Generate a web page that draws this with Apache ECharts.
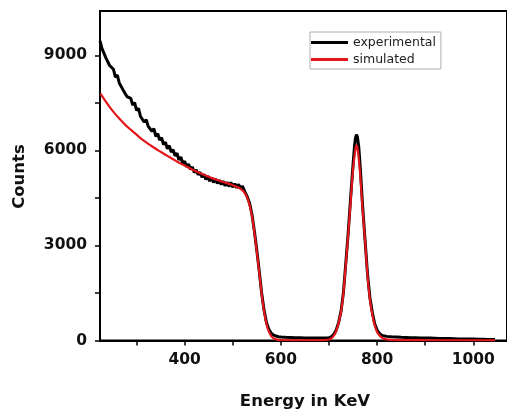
<!DOCTYPE html>
<html>
<head>
<meta charset="utf-8">
<script src="https://cdn.jsdelivr.net/npm/echarts@6/dist/echarts.min.js"></script>
<style>html,body{margin:0;padding:0;background:#fff}#c{width:507px;height:413px}</style>
</head>
<body>
<div id="c"></div>
<script>
var expEnergy = [224,228,232,236,240,244,248,252,256,260,264,268,272,276,280,284,288,292,296,300,304,308,312,316,320,324,328,332,336,340,344,348,352,356,360,364,368,372,376,380,384,388,392,396,400,404,408,412,416,420,424,428,432,436,440,444,448,452,456,460,464,468,472,476,480,484,488,492,496,500,504,508,512,516,520,525,530,535,540,545,550,555,560,565,570,575,580,585,590,595,600,610,620,630,640,650,660,670,680,690,700,705,710,715,720,725,730,735,740,745,750,753,755,757,759,762,765,770,775,780,785,790,795,800,805,810,820,830,840,850,860,870,880,890,900,910,920,930,940,950,960,970,980,990,1000,1010,1020,1030,1040,1045];
var expCounts = [9460,9220,9230,8930,8960,8680,8720,8560,8310,8380,8130,8190,7910,7970,7700,7760,7640,7430,7510,7260,7330,7080,7140,6890,6970,6770,6820,6600,6690,6440,6530,6330,6400,6180,6260,6050,6150,5950,6020,5830,5910,5700,5790,5590,5660,5480,5570,5400,5480,5300,5390,5230,5310,5150,5250,5080,5190,5030,5140,4990,5100,4960,5060,4920,5030,4880,5000,4860,4990,4840,4950,4820,4930,4800,4870,4700,4540,4330,3970,3440,2840,2190,1500,960,570,350,230,170,140,120,110,100,95,90,85,80,80,75,75,80,90,120,200,330,570,920,1520,2460,3420,4520,5560,6130,6390,6500,6430,6090,5460,4210,3160,2110,1360,890,530,330,220,160,130,115,110,100,95,90,85,80,75,75,70,65,60,60,55,50,50,45,45,40,40,35,30,30];
var simEnergy = [225,235,245,255,265,275,285,295,305,315,325,335,345,355,365,375,385,395,405,415,425,435,445,455,465,475,485,495,505,515,520,525,530,535,540,545,550,555,560,565,570,575,580,585,590,600,650,690,700,705,710,715,720,725,730,735,740,745,750,755,757,760,765,770,775,780,785,790,795,800,805,810,815,830,900,1045];
var simCounts = [7790,7560,7350,7160,6990,6830,6690,6560,6430,6310,6200,6100,6000,5910,5820,5730,5640,5560,5480,5400,5330,5260,5200,5140,5080,5030,4980,4930,4870,4800,4740,4650,4500,4270,3920,3400,2800,2150,1470,920,520,280,140,70,35,15,8,15,30,70,150,300,560,900,1500,2400,3350,4400,5400,6050,6160,6000,5200,4100,3150,2050,1300,820,480,270,160,90,50,20,10,5];
var xLabelValues = [400,600,800,1000];
var xTickValues = [300,400,500,600,700,800,900,1000];
var yLabelValues = [0,3000,6000,9000];
var yTickValues = [0,1500,3000,4500,6000,7500,9000];
var seriesNames = ['experimental','simulated'];

function pairs(xs, ys){ var out=[]; for(var i=0;i<xs.length;i++){ out.push([xs[i], ys[i]]); } return out; }
function plain(v){ return String(v); }

var chart = echarts.init(document.getElementById('c'), null, {renderer:'canvas'});
var tickFont = {fontFamily:'DejaVu Sans', fontWeight:'bold', fontSize:15.5, color:'#111'};
chart.setOption({
  animation:false,
  backgroundColor:'#fff',
  grid:{left:100, top:11, width:412, height:329.5, show:true, borderColor:'#000', borderWidth:2, backgroundColor:'transparent'},
  xAxis:{
    type:'value', min:224, max:1070,
    splitLine:{show:false},
    axisLine:{show:true, onZero:false, lineStyle:{color:'#000', width:2}},
    axisTick:{show:true, inside:false, length:5, lineStyle:{color:'#000', width:1.5}, customValues:xTickValues},
    axisLabel:Object.assign({margin:11, customValues:xLabelValues, formatter:plain}, tickFont)
  },
  yAxis:{
    type:'value', min:0, max:10400,
    splitLine:{show:false},
    axisLine:{show:true, lineStyle:{color:'#000', width:2}},
    axisTick:{show:true, inside:false, length:5, lineStyle:{color:'#000', width:1.5}, customValues:yTickValues},
    axisLabel:Object.assign({margin:13, customValues:yLabelValues, formatter:plain}, tickFont)
  },
  legend:{
    orient:'vertical', left:310, top:32,
    data:seriesNames,
    icon:'rect', itemWidth:37, itemHeight:3, itemGap:4,
    padding:[4,5,3,1],
    borderColor:'#b0b0b0', borderWidth:1,
    textStyle:{fontFamily:'DejaVu Sans', fontSize:12.5, color:'#222'}
  },
  graphic:[
    {type:'text', x:305, y:402, style:{text:'Energy in KeV', font:'bold 16.5px "DejaVu Sans"', fill:'#111', textAlign:'center', textVerticalAlign:'middle'}},
    {type:'text', x:20, y:176.5, rotation:Math.PI/2, style:{text:'Counts', font:'bold 16.5px "DejaVu Sans"', fill:'#111', textAlign:'center', textVerticalAlign:'middle'}}
  ],
  series:[
    {name:seriesNames[0], type:'line', data:pairs(expEnergy, expCounts), showSymbol:false, symbol:'none', lineStyle:{color:'#000', width:3}, itemStyle:{color:'#000'}, z:2},
    {name:seriesNames[1], type:'line', data:pairs(simEnergy, simCounts), showSymbol:false, symbol:'none', smooth:0.2, lineStyle:{color:'#e3161b', width:2.2}, itemStyle:{color:'#e3161b'}, z:3}
  ]
});
</script>
</body>
</html>
